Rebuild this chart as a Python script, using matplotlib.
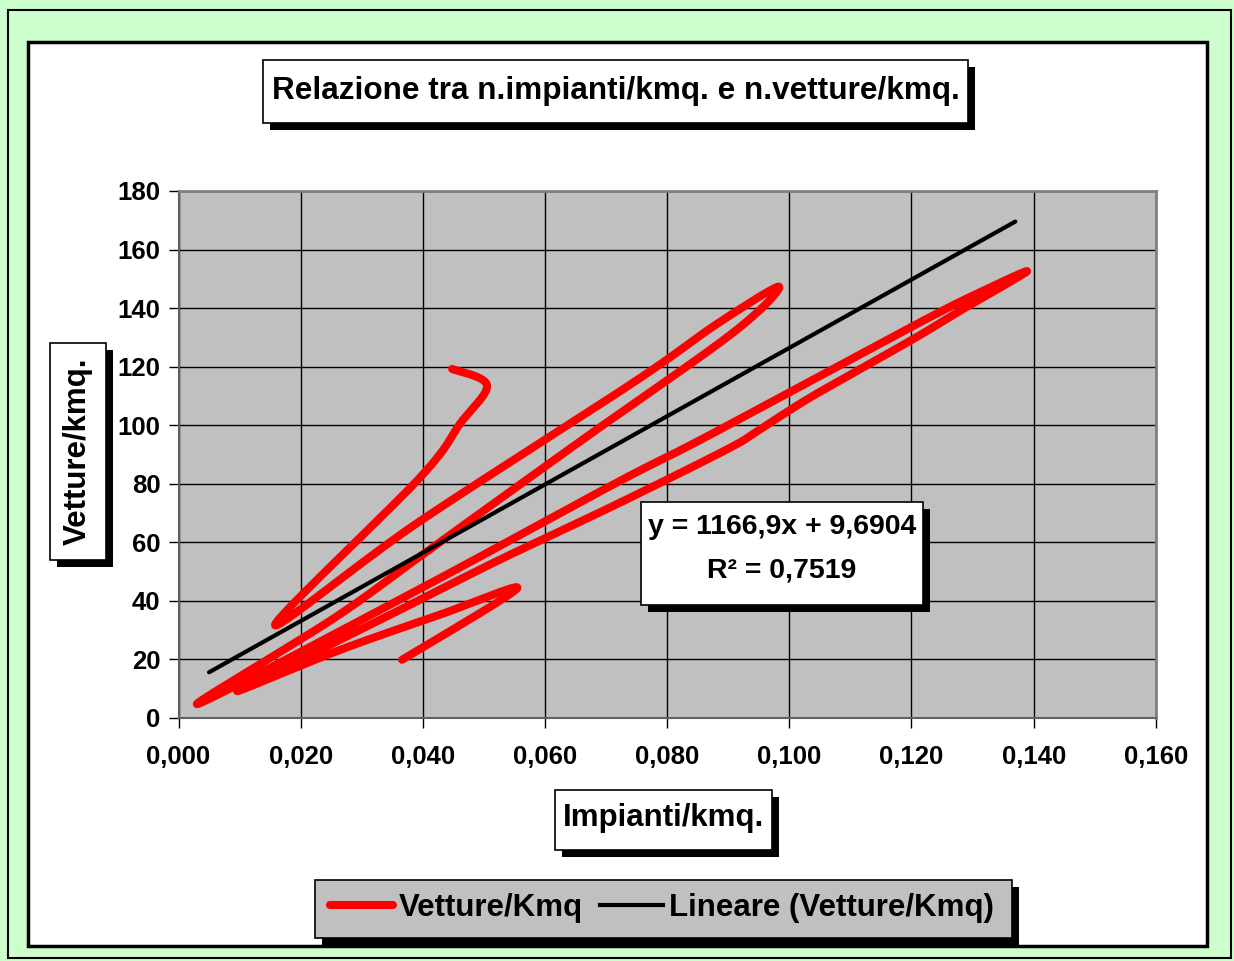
import numpy as np
import matplotlib
matplotlib.use("Agg")
import matplotlib.pyplot as plt
from matplotlib.patches import Rectangle
from matplotlib.lines import Line2D
from matplotlib.ticker import FuncFormatter, MultipleLocator

# Impianti/kmq. (x) and Vetture/kmq. (y), in series order
impianti = [0.0448, 0.0505, 0.0461, 0.0395, 0.0158, 0.0392, 0.0745, 0.0881, 0.0983,
            0.0908, 0.0662, 0.0404, 0.0256, 0.0032, 0.0395, 0.0718, 0.0865, 0.1202,
            0.1312, 0.1389, 0.1284, 0.1202, 0.1038, 0.0952, 0.0898, 0.0711, 0.0526,
            0.0363, 0.0199, 0.0097, 0.0265, 0.0428, 0.0554, 0.0366]
vetture = [119.2, 113.6, 100.5, 82.0, 31.7, 66.7, 114.6, 134.5, 147.3,
           131.6, 95.1, 56.4, 34.2, 4.7, 44.0, 80.4, 96.1, 133.8,
           145.4, 152.5, 139.6, 129.3, 109.9, 98.5, 91.7, 72.3, 54.0,
           36.9, 19.8, 9.1, 23.2, 35.2, 44.1, 19.8]

# Linear trend line and the x span it is drawn over
slope, intercept = 1166.9, 9.6904
r_squared = 0.7519
trend_x = [0.005, 0.137]

series_label = "Vetture/Kmq"
trend_label = "Lineare (Vetture/Kmq)"
title_text = "Relazione tra n.impianti/kmq. e n.vetture/kmq."
xlabel_text = "Impianti/kmq."
ylabel_text = "Vetture/kmq."

W, H = 1234, 961
FONT = "Liberation Sans"
GREEN = "#CCFFCC"
GREY = "#C0C0C0"


def smooth(xs, ys, n=30):
    """Smoothed line through the points (cubic Bezier, Catmull-Rom tangents)."""
    p = np.column_stack([xs, ys]).astype(float)
    ext = np.vstack([p[0], p, p[-1]])
    out = []
    t = np.linspace(0, 1, n)[:, None]
    for i in range(len(p) - 1):
        p0, p1, p2, p3 = ext[i], ext[i + 1], ext[i + 2], ext[i + 3]
        c1 = p1 + (p2 - p0) / 6.0
        c2 = p2 - (p3 - p1) / 6.0
        seg = ((1 - t) ** 3) * p1 + 3 * ((1 - t) ** 2) * t * c1 + 3 * (1 - t) * t ** 2 * c2 + t ** 3 * p2
        out.append(seg if i == 0 else seg[1:])
    s = np.vstack(out)
    return s[:, 0], s[:, 1]


def fx(x):
    return x / W


def fy(y):
    return 1 - y / H


def box(fig, x0, y0, x1, y1, fc="white", shadow=7, lw=1.2, z=1):
    if shadow:
        fig.patches.append(Rectangle((fx(x0 + shadow), fy(y1 + shadow)), (x1 - x0) / W, (y1 - y0) / H,
                                     transform=fig.transFigure, facecolor="black", edgecolor="none",
                                     zorder=z))
    fig.patches.append(Rectangle((fx(x0), fy(y1)), (x1 - x0) / W, (y1 - y0) / H,
                                 transform=fig.transFigure, facecolor=fc, edgecolor="black",
                                 linewidth=lw, zorder=z + 0.1))


fig = plt.figure(figsize=(W / 100, H / 100), dpi=100, facecolor=GREEN)

# Outer frame and white chart area
fig.patches.append(Rectangle((fx(8), fy(958)), (1231 - 8) / W, (958 - 10) / H, transform=fig.transFigure,
                             facecolor=GREEN, edgecolor="black", linewidth=1.5, zorder=0))
box(fig, 28, 42, 1207, 946, fc="white", shadow=0, lw=2.5, z=0.5)

# Plot area
ax = fig.add_axes([fx(178.5), fy(717.7), (1155.8 - 178.5) / W, (717.7 - 191) / H])
ax.set_zorder(3)
ax.set_facecolor(GREY)
ax.set_xlim(0, 0.16)
ax.set_ylim(0, 180)
ax.xaxis.set_major_locator(MultipleLocator(0.02))
ax.yaxis.set_major_locator(MultipleLocator(20))
ax.xaxis.set_major_formatter(FuncFormatter(lambda v, _: f"{v:.3f}".replace(".", ",")))
ax.yaxis.set_major_formatter(FuncFormatter(lambda v, _: f"{v:.0f}"))
ax.grid(True, color="black", linewidth=1.0)
ax.set_axisbelow(True)
for side in ("top", "right"):
    ax.spines[side].set_color("#808080")
    ax.spines[side].set_linewidth(2)
for side in ("left", "bottom"):
    ax.spines[side].set_color("#606060")
    ax.spines[side].set_linewidth(1.5)
ax.tick_params(direction="out", length=7, width=1.0, color="black")
ax.tick_params(axis="y", pad=6)
ax.tick_params(axis="x", pad=13)
for lab in ax.get_xticklabels() + ax.get_yticklabels():
    lab.set_fontfamily(FONT)
    lab.set_fontweight("bold")
    lab.set_fontsize(18.5)

sx, sy = smooth(impianti, vetture)
ax.plot(sx, sy, color="red", linewidth=5.8, solid_capstyle="round", solid_joinstyle="round", zorder=4)

xt = np.array(trend_x)
ax.plot(xt, slope * xt + intercept, color="black", linewidth=3.0, solid_capstyle="round", zorder=5)

# Equation box
box(fig, 641, 502, 923, 605, z=6)
fig.text(fx(782), fy(527), f"y = {slope:.1f}x + {intercept:.4f}".replace(".", ","), ha="center", va="center",
         fontfamily=FONT, fontweight="bold", fontsize=20.5, zorder=7)
fig.text(fx(782), fy(571), f"R² = {r_squared:.4f}".replace(".", ","), ha="center", va="center",
         fontfamily=FONT, fontweight="bold", fontsize=20.5, zorder=7)

# Title
box(fig, 263, 60, 968, 123, z=2)
fig.text(fx(615.5), fy(91.5), title_text, ha="center", va="center", fontfamily=FONT,
         fontweight="bold", fontsize=22.7, zorder=3)

# Axis titles
box(fig, 50, 343, 106, 560, z=2)
fig.text(fx(78), fy(451.5), ylabel_text, ha="center", va="center", rotation=90, fontfamily=FONT,
         fontweight="bold", fontsize=22.5, zorder=3)
box(fig, 555, 790, 772, 850, z=2)
fig.text(fx(663.5), fy(818), xlabel_text, ha="center", va="center", fontfamily=FONT,
         fontweight="bold", fontsize=22.5, zorder=3)

# Legend
box(fig, 315, 880, 1012, 938, fc=GREY, z=2)
handles = [Line2D([], [], color="red", linewidth=5.8, solid_capstyle="round"),
           Line2D([], [], color="black", linewidth=3.0)]
leg = fig.legend(handles, [series_label, trend_label], loc="center", bbox_to_anchor=(fx(662), fy(908)),
                 ncol=2, frameon=False, handlelength=2.0, handletextpad=0.2, columnspacing=0.55,
                 prop={"family": FONT, "weight": "bold", "size": 22.5})
leg.set_zorder(4)

fig.savefig("out.png", dpi=100, facecolor=GREEN)
